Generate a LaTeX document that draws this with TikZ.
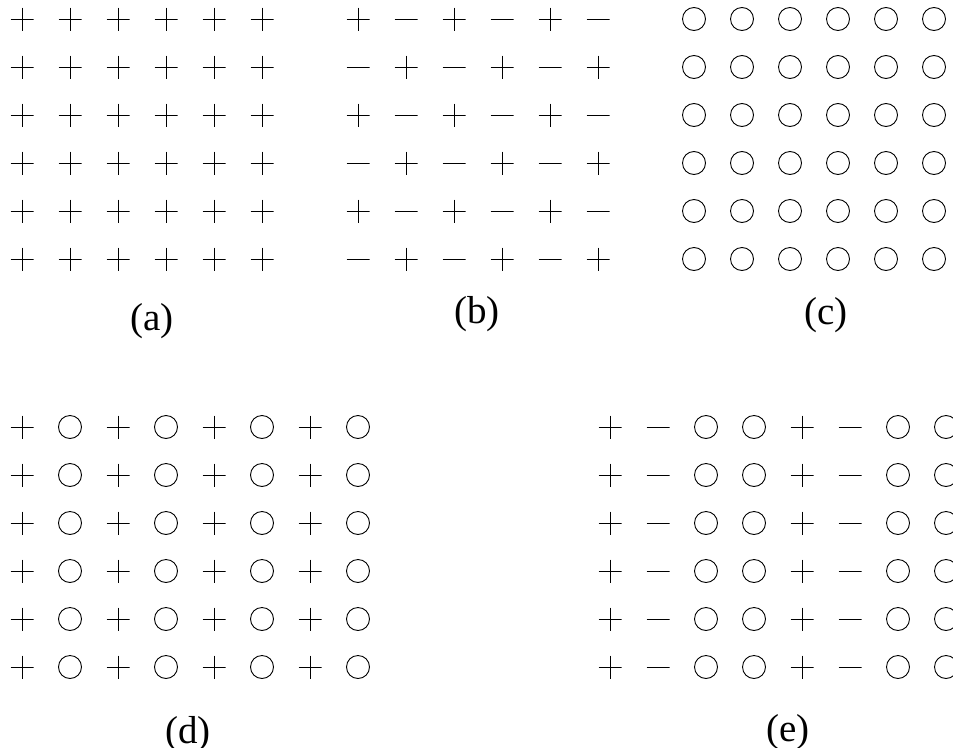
\documentclass[tikz,border=0pt]{standalone}
\usepackage{fontspec}
\setmainfont{Liberation Serif}

\begin{document}
\begin{tikzpicture}[
    x=1pt, y=-1pt,
    sym/.style={minimum size=23pt, inner sep=0pt, line width=0.9pt},
    plus/.style={sym, path picture={\draw[line width=0.9pt]
        (path picture bounding box.west) -- (path picture bounding box.east)
        (path picture bounding box.north) -- (path picture bounding box.south);}},
    minus/.style={sym, path picture={\draw[line width=0.9pt]
        (path picture bounding box.west) -- (path picture bounding box.east);}},
    ring/.style={sym, circle, draw},
    caption/.style={anchor=base, inner sep=0pt, font=\fontsize{39}{47}\selectfont}
  ]
  \useasboundingbox (0,0) rectangle (953,747);
  \clip (0,0) rectangle (953,747);

  % (a) all plus
  \foreach \r in {0,...,5}
    \foreach \c in {0,...,5}
      \node[plus] (a-\r-\c) at (22+48*\c, 19+48*\r) {};

  % (b) checkerboard
  \foreach \r in {0,...,5}
    \foreach \c in {0,...,5} {
      \ifodd\numexpr\r+\c\relax
        \node[minus] (b-\r-\c) at (358+48*\c, 19+48*\r) {};
      \else
        \node[plus] (b-\r-\c) at (358+48*\c, 19+48*\r) {};
      \fi
    }

  % (c) all rings
  \foreach \r in {0,...,5}
    \foreach \c in {0,...,5}
      \node[ring] (c-\r-\c) at (694+48*\c, 19+48*\r) {};

  % (d) plus / ring columns
  \foreach \r in {0,...,5}
    \foreach \c/\kind in {0/plus,1/ring,2/plus,3/ring,4/plus,5/ring,6/plus,7/ring}
      \node[\kind] (d-\r-\c) at (22+48*\c, 427+48*\r) {};

  % (e) plus / minus / ring / ring columns
  \foreach \r in {0,...,5}
    \foreach \c/\kind in {0/plus,1/minus,2/ring,3/ring,4/plus,5/minus,6/ring,7/ring}
      \node[\kind] (e-\r-\c) at (610+48*\c, 427+48*\r) {};

  % captions
  \node[caption] (cap-a) at (152,330) {(a)};
  \node[caption] (cap-b) at (477,323) {(b)};
  \node[caption] (cap-c) at (826,324) {(c)};
  \node[caption] (cap-d) at (188,743) {(d)};
  \node[caption] (cap-e) at (788,741) {(e)};
\end{tikzpicture}
\end{document}
